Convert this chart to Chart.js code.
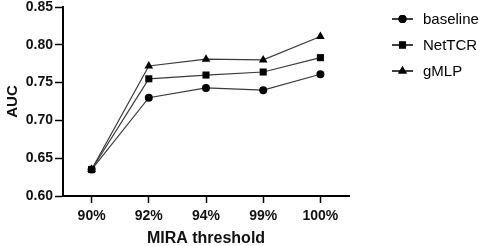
<!DOCTYPE html>
<html>
<head>
<meta charset="utf-8">
<script src="https://cdn.jsdelivr.net/npm/chart.js@4.4.1/dist/chart.umd.min.js"></script>
<style>
  html, body { margin: 0; padding: 0; background: #fff; }
  #wrap { width: 484px; height: 246px; position: relative; }
</style>
</head>
<body>
<div id="wrap"><canvas id="c"></canvas></div>
<script>
// data
const thresholds = ['90%', '92%', '94%', '99%', '100%'];
const baseline = [0.635, 0.730, 0.743, 0.740, 0.761];
const netTCR = [0.635, 0.755, 0.760, 0.764, 0.783];
const gMLP = [0.635, 0.772, 0.781, 0.780, 0.811];
const seriesNames = ['baseline', 'NetTCR', 'gMLP'];
const yTicks = [0.60, 0.65, 0.70, 0.75, 0.80, 0.85];

const FONT = '"Liberation Sans", Arial, sans-serif';

function mkSet(label, data, style, r) {
  return {
    label: label,
    data: data,
    borderColor: '#3a3a3a',
    borderWidth: 1.2,
    backgroundColor: '#000',
    pointBackgroundColor: '#000',
    pointBorderColor: '#000',
    pointBorderWidth: 0,
    pointStyle: style,
    pointRadius: r,
    pointHoverRadius: r,
    tension: 0
  };
}

// legend drawn by hand: short line with marker in the middle, then label
const sideLegend = {
  id: 'sideLegend',
  afterDraw(chart) {
    const ctx = chart.ctx;
    const rows = [19, 45, 71];
    chart.data.datasets.forEach((ds, i) => {
      const y = rows[i];
      ctx.save();
      ctx.strokeStyle = '#000';
      ctx.lineWidth = 1.5;
      ctx.beginPath();
      ctx.moveTo(392, y);
      ctx.lineTo(413, y);
      ctx.stroke();
      Chart.helpers.drawPoint(ctx, {
        pointStyle: ds.pointStyle,
        radius: ds.pointRadius,
        borderWidth: 0
      }, 402.5, y);
      ctx.fillStyle = '#000';
      ctx.fill();
      ctx.font = '15px ' + FONT;
      ctx.textBaseline = 'middle';
      ctx.fillText(ds.label, 423, y + 1);
      ctx.restore();
    });
  }
};

new Chart(document.getElementById('c'), {
  type: 'line',
  data: {
    labels: thresholds,
    datasets: [
      mkSet(seriesNames[0], baseline, 'circle', 4),
      mkSet(seriesNames[1], netTCR, 'rect', 5),
      mkSet(seriesNames[2], gMLP, 'triangle', 5)
    ]
  },
  options: {
    responsive: true,
    maintainAspectRatio: false,
    animation: false,
    layout: { padding: { top: 7, right: 135, left: 0, bottom: 0 } },
    plugins: {
      legend: { display: false },
      tooltip: { enabled: false }
    },
    scales: {
      x: {
        offset: true,
        grid: { drawOnChartArea: false, tickLength: 7, tickColor: '#000', tickWidth: 1.5 },
        border: { color: '#000', width: 2 },
        ticks: { color: '#111', font: { family: FONT, size: 14, weight: 'bold' }, padding: 5 },
        title: { display: true, text: 'MIRA threshold', color: '#111', font: { family: FONT, size: 16, weight: 'bold' }, padding: { top: 6, bottom: -2 } },
        afterFit(s) { s.height = 50; s.paddingLeft = 0; s.paddingRight = 0; }
      },
      y: {
        min: 0.6,
        max: 0.85,
        afterBuildTicks(s) { s.ticks = yTicks.map(v => ({ value: v })); },
        grid: { drawOnChartArea: false, tickLength: 8, tickColor: '#000', tickWidth: 1.5 },
        border: { color: '#000', width: 2 },
        ticks: {
          color: '#111',
          font: { family: FONT, size: 14, weight: 'bold' },
          padding: 2,
          callback: v => Number(v).toFixed(2)
        },
        title: { display: true, text: 'AUC', color: '#111', font: { family: FONT, size: 15, weight: 'bold' }, padding: { bottom: 4 } },
        afterFit(s) { s.width = 63; s.paddingTop = 0; s.paddingBottom = 0; }
      }
    }
  },
  plugins: [sideLegend]
});
</script>
</body>
</html>
